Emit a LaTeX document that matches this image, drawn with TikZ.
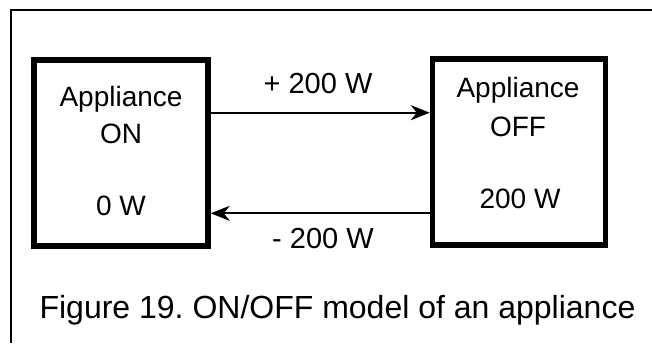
\documentclass[tikz,border=0pt]{standalone}
\usepackage{fontspec}
\setmainfont{Liberation Sans}
\usetikzlibrary{arrows.meta}
\frenchspacing
\begin{document}
\begin{tikzpicture}[x=1pt,y=-1pt,
  statebox/.style={draw, line width=5.5pt, inner sep=0pt},
  boxlbl/.style={inner sep=0pt, anchor=base, font=\fontsize{28}{34}\selectfont},
  arrowlbl/.style={inner sep=0pt, anchor=base, font=\fontsize{29}{34}\selectfont},
  captext/.style={inner sep=0pt, anchor=base, font=\fontsize{32}{38}\selectfont},
  flowarrow/.style={line width=2pt, -{Stealth[length=19pt,width=15pt,inset=6pt]}},
  outerframe/.style={line width=2pt}]
\useasboundingbox (0,0) rectangle (652,343);
% outer frame
\coordinate (fr1) at (652,10);
\coordinate (fr2) at (11,10);
\coordinate (fr3) at (11,343);
\draw[outerframe] (fr1) -- (fr2) -- (fr3);
% boxes
\node[statebox, minimum width=174pt, minimum height=186pt] (on) at (121,153) {};
\node[statebox, minimum width=173pt, minimum height=186pt] (off) at (519,152) {};
% box texts
\node[boxlbl] (on1) at (121,106) {Appliance};
\node[boxlbl] (on2) at (121,143) {ON};
\node[boxlbl] (on3) at (121,215) {0 W};
\node[boxlbl] (off1) at (518,97) {Appliance};
\node[boxlbl] (off2) at (518,136) {OFF};
\node[boxlbl] (off3) at (520,208) {200 W};
% arrows
\coordinate (r1) at (0,112.7);
\coordinate (r2) at (0,213.3);
\draw[flowarrow] (on.east |- r1) -- (off.west |- r1);
\draw[flowarrow] (off.west |- r2) -- (on.east |- r2);
\node[arrowlbl] (plus) at (318,93) {+ 200 W};
\node[arrowlbl] (minus) at (323,248) {- 200 W};
% caption
\node[captext] (caption) at (337.5,318) {Figure 19. ON/OFF model of an appliance};
\end{tikzpicture}
\end{document}
